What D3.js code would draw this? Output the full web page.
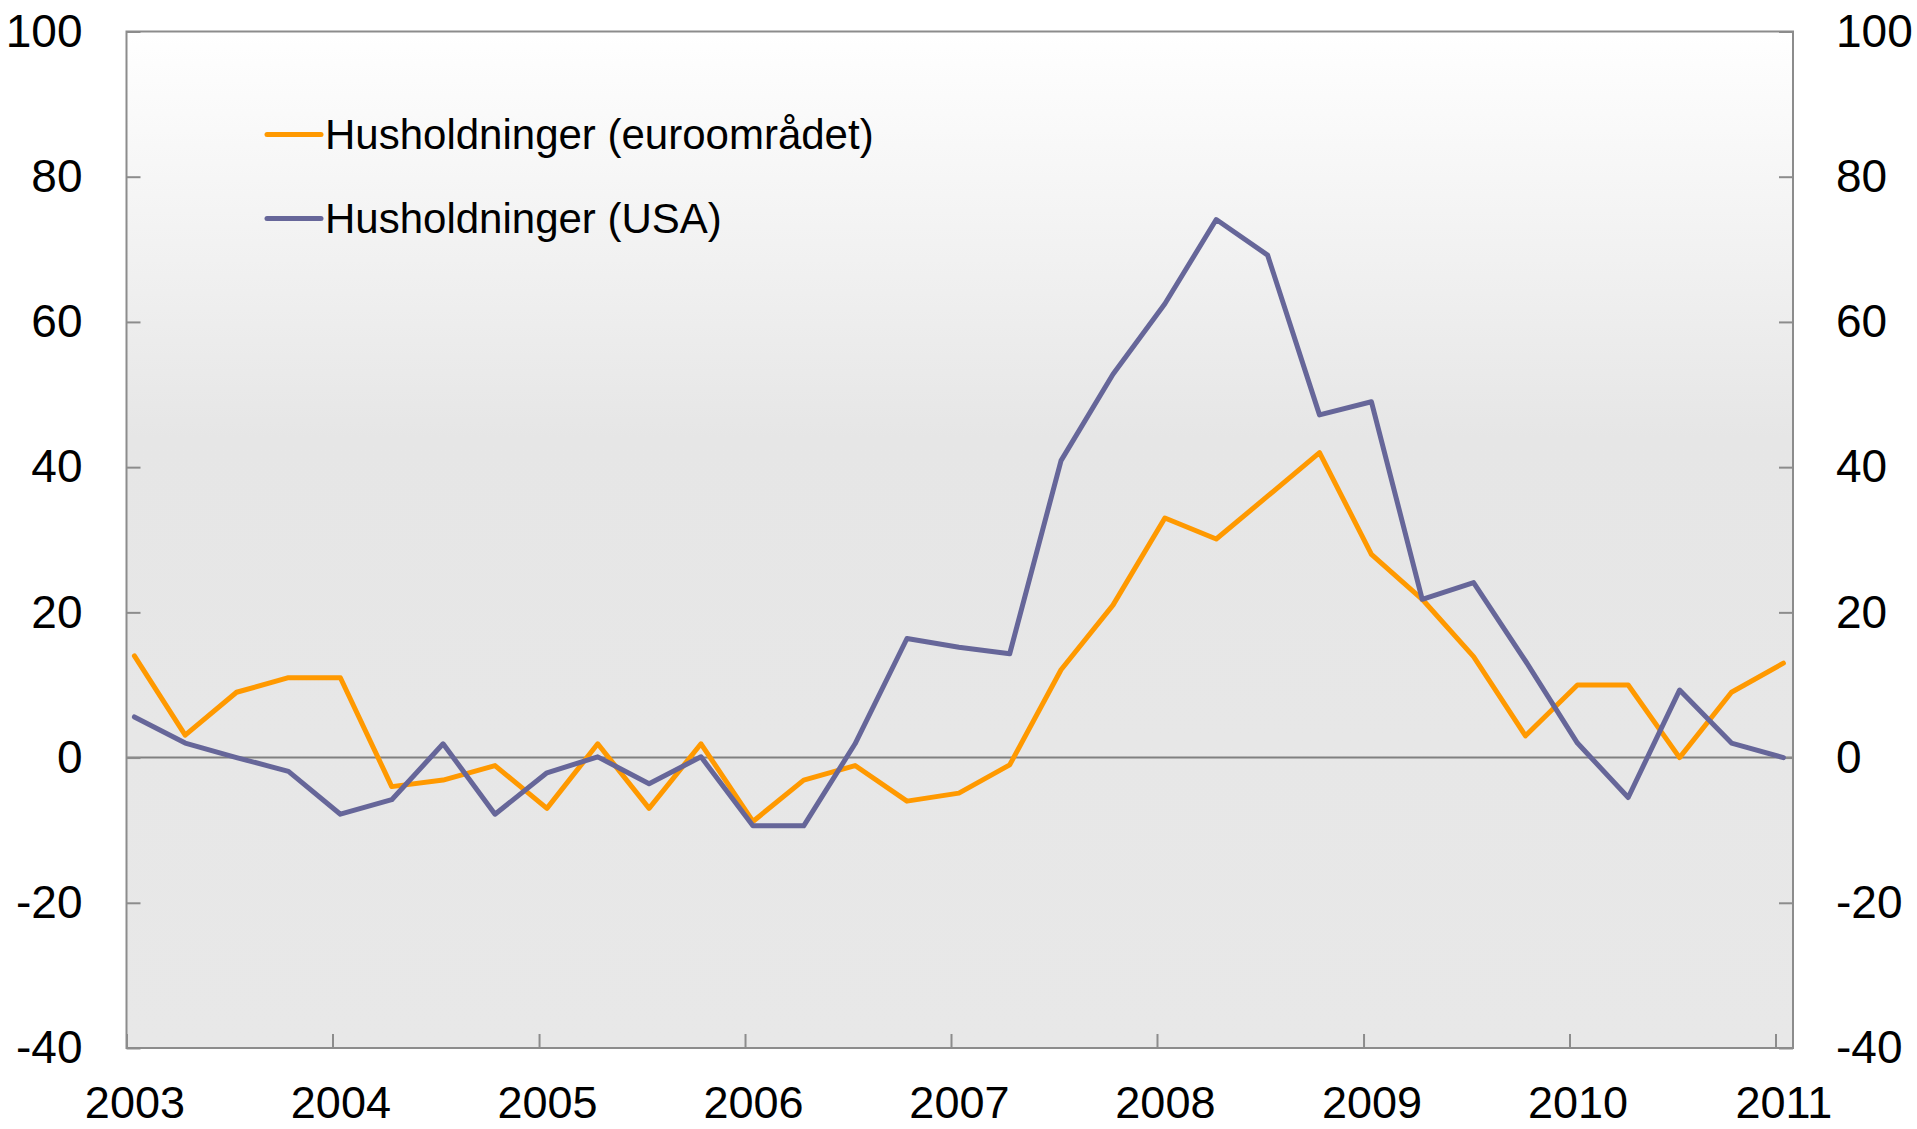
<!DOCTYPE html>
<html>
<head>
<meta charset="utf-8">
<script src="https://cdn.jsdelivr.net/npm/d3@7"></script>
<style>
  body { margin: 0; background: #fff; }
  text { font-family: "Liberation Sans", Arial, sans-serif; fill: #000; }
</style>
</head>
<body>
<script>
// quarterly observations, 2003 K1 - 2011 K1
const quarters = [
  "2003K1","2003K2","2003K3","2003K4",
  "2004K1","2004K2","2004K3","2004K4",
  "2005K1","2005K2","2005K3","2005K4",
  "2006K1","2006K2","2006K3","2006K4",
  "2007K1","2007K2","2007K3","2007K4",
  "2008K1","2008K2","2008K3","2008K4",
  "2009K1","2009K2","2009K3","2009K4",
  "2010K1","2010K2","2010K3","2010K4",
  "2011K1"
];
const euroValues = [
  14, 3.1, 9, 11,
  11, -4, -3.1, -1.1,
  -7, 1.9, -7, 1.9,
  -8.8, -3.1, -1.1, -6,
  -4.9, -1, 12.1, 21,
  33, 30.1, 36, 42,
  28, 21.8, 13.9, 3,
  10, 10, 0, 9,
  13
];
const usaValues = [
  5.6, 2, 0, -1.9,
  -7.8, -5.8, 1.9, -7.8,
  -2.1, 0.1, -3.6, 0.1,
  -9.4, -9.4, 1.9, 16.4,
  15.2, 14.3, 40.9, 52.8,
  62.5, 74.1, 69.2, 47.2,
  49.0, 21.8, 24.1, 13.3,
  2, -5.5, 9.3, 2,
  0
];
const seriesNames = ["Husholdninger (euroområdet)", "Husholdninger (USA)"];
const seriesColors = ["#ff9900", "#666699"];
const yTicks = [-40, -20, 0, 20, 40, 60, 80, 100];
const xYears = [2003, 2004, 2005, 2006, 2007, 2008, 2009, 2010, 2011];

const w = 1917, h = 1129;
const margin = { top: 31.5, left: 126.5, right: 1917 - 1793, bottom: 1129 - 1048 };
const width = w - margin.left - margin.right;
const height = h - margin.top - margin.bottom;

// quarter "2003K2" -> mid-month date of first month in quarter
function qDate(q) {
  const y = +q.slice(0, 4), k = +q.slice(5);
  return new Date(Date.UTC(y, (k - 1) * 3, 15));
}

const svg = d3.select("body").append("svg")
  .attr("width", w)
  .attr("height", h);

const defs = svg.append("defs");
const grad = defs.append("linearGradient")
  .attr("id", "bg").attr("x1", 0).attr("y1", 0).attr("x2", 0).attr("y2", 1);
grad.append("stop").attr("offset", "0%").attr("stop-color", "#ffffff");
grad.append("stop").attr("offset", "40%").attr("stop-color", "#e6e6e6");
grad.append("stop").attr("offset", "100%").attr("stop-color", "#e8e8e8");

const chart = svg.append("g")
  .attr("transform", "translate(" + margin.left + "," + margin.top + ")");

const x = d3.scaleUtc()
  .domain([new Date(Date.UTC(2003, 0, 1)), new Date(Date.UTC(2011, 1, 1))])
  .range([0, width]);
const y = d3.scaleLinear()
  .domain([-40, 100])
  .range([height, 0]);

// plot background
chart.append("rect")
  .attr("width", width)
  .attr("height", height)
  .attr("fill", "url(#bg)");

// zero line
chart.append("line")
  .attr("x1", 0).attr("x2", width)
  .attr("y1", y(0)).attr("y2", y(0))
  .attr("stroke", "#808080")
  .attr("stroke-width", 2);

// axes (plain hyphen for negatives, as in the original)
const fmt = d => String(d);
const yAxisL = d3.axisLeft(y).tickValues(yTicks).tickFormat(fmt).tickSize(-14).tickSizeOuter(0).tickPadding(44);
const yAxisR = d3.axisRight(y).tickValues(yTicks).tickFormat(fmt).tickSize(-14).tickSizeOuter(0).tickPadding(43);
const xAxis = d3.axisBottom(x)
  .tickValues(xYears.map(d => new Date(Date.UTC(d, 0, 1))))
  .tickFormat(d3.utcFormat("%Y"))
  .tickSize(-14).tickSizeOuter(0).tickPadding(38);

chart.append("g").attr("class", "axis").call(yAxisL);
chart.append("g").attr("class", "axis").attr("transform", "translate(" + width + ",0)").call(yAxisR);
chart.append("g").attr("class", "axis x").attr("transform", "translate(0," + height + ")").call(xAxis);

chart.selectAll(".axis .domain").remove();
chart.selectAll(".axis line").attr("stroke", "#8c8c8c").attr("stroke-width", 2);
chart.selectAll(".axis text").style("font-size", "46px").attr("fill", "#000");
chart.selectAll(".axis.x text").style("font-size", "45px");
// year labels sit under the first observation of the year
chart.selectAll(".axis.x text")
  .attr("x", d => x(new Date(Date.UTC(d.getUTCFullYear(), 0, 15))) - x(d));

// frame
chart.append("rect")
  .attr("width", width)
  .attr("height", height)
  .attr("fill", "none")
  .attr("stroke", "#8c8c8c")
  .attr("stroke-width", 2);

// lines
const line = d3.line()
  .x((d, i) => x(qDate(quarters[i])))
  .y(d => y(d));

[euroValues, usaValues].forEach((vals, i) => {
  chart.append("path")
    .datum(vals)
    .attr("d", line)
    .attr("fill", "none")
    .attr("stroke", seriesColors[i])
    .attr("stroke-width", 5)
    .attr("stroke-linejoin", "round")
    .attr("stroke-linecap", "round");
});

// legend
const legend = svg.append("g");
seriesNames.forEach((name, i) => {
  const ly = 134.5 + i * 84;
  legend.append("line")
    .attr("x1", 267).attr("x2", 321)
    .attr("y1", ly).attr("y2", ly)
    .attr("stroke", seriesColors[i])
    .attr("stroke-width", 5)
    .attr("stroke-linecap", "round");
  legend.append("text")
    .attr("x", 325)
    .attr("y", ly)
    .attr("dy", "0.35em")
    .style("font-size", "42px")
    .text(name);
});
</script>
</body>
</html>
